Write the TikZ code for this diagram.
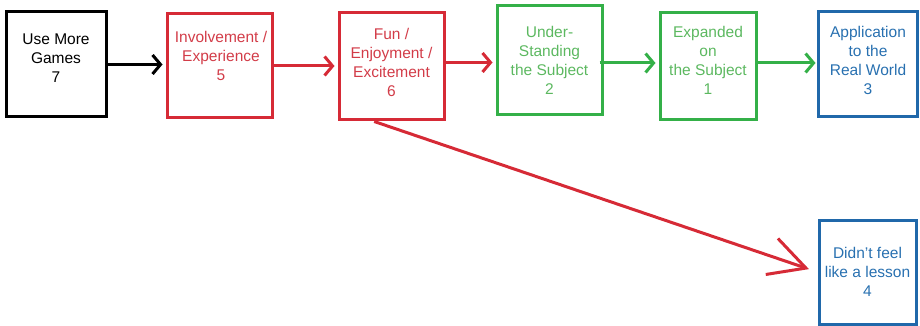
\documentclass[tikz,border=0pt]{standalone}
\usepackage{fontspec}
\setmainfont{Liberation Sans}
\usetikzlibrary{arrows.meta,calc}
\definecolor{lred}{RGB}{214,42,54}
\definecolor{tred}{RGB}{210,60,72}
\definecolor{lgreen}{RGB}{52,176,72}
\definecolor{tgreen}{RGB}{92,184,96}
\definecolor{lblue}{RGB}{32,104,170}
\definecolor{tblue}{RGB}{40,112,176}
\begin{document}
\begin{tikzpicture}[x=1pt,y=-1pt,
  box/.style={draw,line width=3pt,minimum width=#1,inner sep=0pt},
  txt/.style={align=center,inner sep=0pt,font=\fontsize{15.5}{19}\selectfont},
  arr/.style={line width=3pt,-{Straight Barb[length=8pt,width=19pt]}},
  bigarr/.style={line width=3pt,-{Straight Barb[length=36pt,width=38pt]}}]
\useasboundingbox (0,0) rectangle (920,326);
% boxes
\node[box=100pt,draw=black,minimum height=105pt] (b1) at (56,64.5) {};
\node[box=105pt,draw=lred,minimum height=104pt] (b2) at (219.5,66) {};
\node[box=105pt,draw=lred,minimum height=107pt] (b3) at (391.5,66.5) {};
\node[box=105pt,draw=lgreen,minimum height=109pt] (b4) at (549.5,60.5) {};
\node[box=96pt,draw=lgreen,minimum height=107pt] (b5) at (708,66.5) {};
\node[box=99pt,draw=lblue,minimum height=105pt] (b6) at (867.5,64.5) {};
\node[box=97pt,draw=lblue,minimum height=104pt] (b7) at (867.5,272) {};
% texts
\node[txt,text=black] (t1) at (56,58) {Use More\\Games\\7};
\node[txt,text=tred] (t2) at (221,55.5) {Involvement /\\Experience\\5};
\node[txt,text=tred] (t3) at (391.5,62) {Fun /\\Enjoyment /\\Excitement\\6};
\node[txt,text=tgreen] (t4) at (549.5,60) {Under-\\Standing\\the Subject\\2};
\node[txt,text=tgreen] (t5) at (708,60) {Expanded\\on\\the Subject\\1};
\node[txt,text=tblue] (t6) at (868,60) {Application\\to the\\Real World\\3};
\node[txt,text=tblue] (t7) at (867.5,272) {Didn't feel\\like a lesson\\4};
% arrows
\draw[arr,black,shorten >=3pt] (b1.east) -- (b1.east -| b2.west);
\draw[arr,lred,shorten >=3pt] (b2.east) -- (b2.east -| b3.west);
\draw[arr,lred,shorten >=3pt] (b3.east |- b4.east) ++(0,2) coordinate (c34) -- (c34 -| b4.west);
\draw[arr,lgreen,shorten >=3pt] ($(b4.east)+(-4,2.5)$) coordinate (c45) -- (c45 -| b5.west);
\draw[arr,lgreen,shorten >=1pt] ($(b5.east)+(0,-3.5)$) coordinate (c56) -- (c56 -| b6.west);
\draw[bigarr,lred,shorten >=9pt] ($(b3.south west)!0.34!(b3.south east)$) coordinate (c37) -- (b7.west);
\end{tikzpicture}
\end{document}
